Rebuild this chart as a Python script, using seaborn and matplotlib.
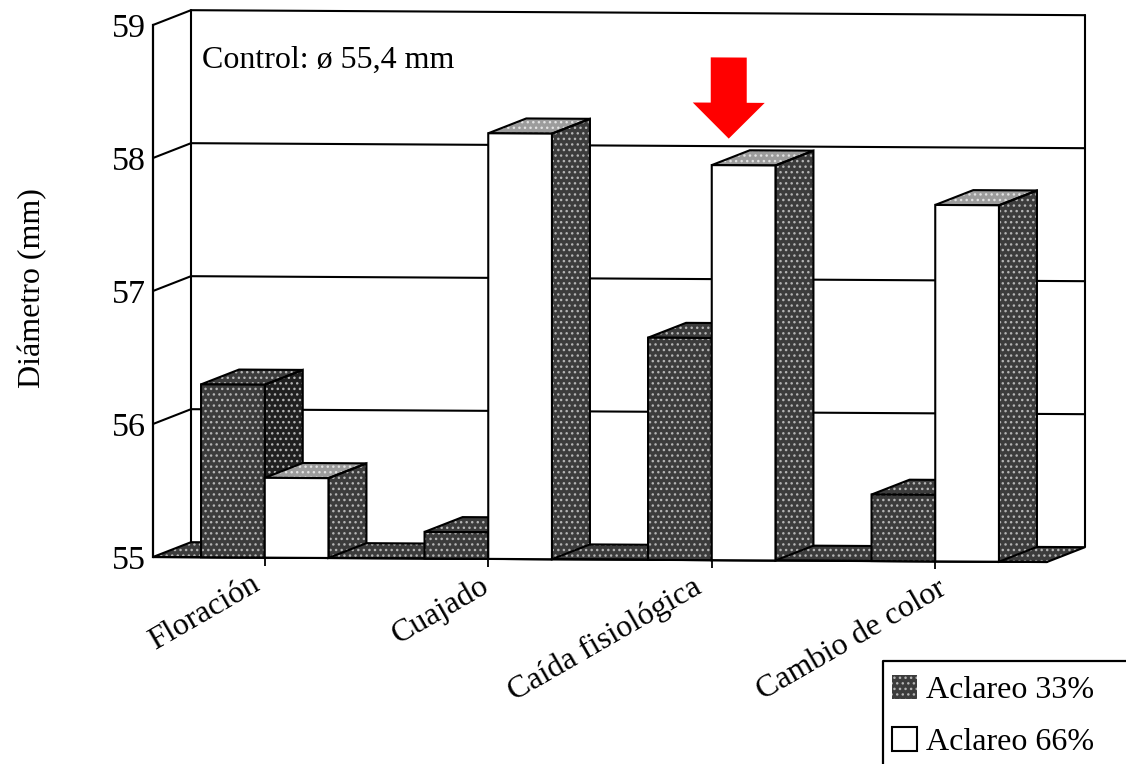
import matplotlib
matplotlib.use("Agg")
import matplotlib.pyplot as plt
import pandas as pd
import seaborn as sns
from matplotlib.lines import Line2D
from matplotlib.patches import FancyArrow, Patch, Polygon, Rectangle
from matplotlib.transforms import Affine2D

# Fruit diameter by thinning date and intensity
stages = ["Floración", "Cuajado", "Caída fisiológica", "Cambio de color"]
thinning_33 = [56.3, 55.2, 56.67, 55.5]
thinning_66 = [55.6, 58.2, 57.97, 57.68]
series_names = ["Aclareo 33%", "Aclareo 66%"]
y_ticks = [55, 56, 57, 58, 59]

W, H, DPI = 1126, 764, 100
BASE = 55
DEPTH_X, DEPTH_Y = 0.170, 0.113   # pseudo-3D offset of the back plane, data units
HATCH = "..."
DOT = "#b4b4b4"
DOT_LIGHT = "#e2e2e2"
DARK = "#3c3c3c"
DARKEST = "#202020"
LIGHT_TOP = "#9c9c9c"
LINE = 1.5

sns.set_style("white")
plt.rcParams["font.family"] = ["Liberation Serif", "DejaVu Serif"]
plt.rcParams["hatch.linewidth"] = 1.0

fig = plt.figure(figsize=(W / DPI, H / DPI), dpi=DPI, facecolor="white")
ax = fig.add_axes([153 / W, (H - 557) / H, 894 / W, 532 / H])
ax.patch.set_alpha(0)

frame = pd.DataFrame({
    "stage": stages * 2,
    "diameter": thinning_33 + thinning_66,
    "series": [series_names[0]] * 4 + [series_names[1]] * 4,
})
sns.barplot(data=frame, x="stage", y="diameter", hue="series", order=stages,
            hue_order=series_names, palette={series_names[0]: DARK, series_names[1]: "white"},
            width=0.57, gap=0, saturation=1, legend=False, ax=ax)
ax.set_xlim(-0.5, 3.5)
ax.set_ylim(55, 59)

# The whole plot leans very slightly downward to the right
k = 5.0 / 894
lean = Affine2D.from_values(1, -k, 0, 1, 0, k * 153)
tf = ax.transData + lean


def poly(points, face, z, hatch=None, dots=DOT):
    shade = Polygon(points, closed=True, transform=tf, facecolor=face, edgecolor=dots,
                    hatch=hatch, linewidth=0, zorder=z, clip_on=False)
    line = Polygon(points, closed=True, transform=tf, fill=False, edgecolor="black",
                   linewidth=LINE, zorder=z + 0.01, clip_on=False, joinstyle="miter")
    ax.add_patch(shade)
    ax.add_patch(line)


x0, x1 = ax.get_xlim()

# Back wall and gridlines
for y in y_ticks[1:]:
    ax.plot([x0, x0 + DEPTH_X, x1 + DEPTH_X], [y, y + DEPTH_Y, y + DEPTH_Y], color="black",
            lw=LINE, transform=tf, zorder=1, clip_on=False, solid_joinstyle="miter")
for x in (x0 + DEPTH_X, x1 + DEPTH_X):
    ax.plot([x, x], [BASE + DEPTH_Y, y_ticks[-1] + DEPTH_Y], color="black", lw=LINE,
            transform=tf, zorder=1, clip_on=False)

# Floor
poly([(x0, BASE), (x1, BASE), (x1 + DEPTH_X, BASE + DEPTH_Y), (x0 + DEPTH_X, BASE + DEPTH_Y)],
     DARK, 2, HATCH)

# Bars: seaborn's rectangles become front faces, with side and top faces added behind
bars = []
for container, is_dark in zip(ax.containers, (True, False)):
    for rect in container:
        bars.append((rect, is_dark))
bars.sort(key=lambda item: item[0].get_x())

for i, (rect, is_dark) in enumerate(bars):
    left, w, top = rect.get_x(), rect.get_width(), rect.get_height()
    right = left + w
    z = 3 + i
    side = DARKEST if is_dark else DARK
    cap = DARK if is_dark else LIGHT_TOP
    poly([(right, BASE), (right + DEPTH_X, BASE + DEPTH_Y),
          (right + DEPTH_X, top + DEPTH_Y), (right, top)], side, z, HATCH)
    poly([(left, top), (right, top), (right + DEPTH_X, top + DEPTH_Y),
          (left + DEPTH_X, top + DEPTH_Y)], cap, z, HATCH, DOT if is_dark else DOT_LIGHT)
    rect.set_y(BASE)
    rect.set_height(top - BASE)
    rect.set_transform(tf)
    rect.set_clip_on(False)
    rect.set_zorder(z + 0.5)
    rect.set_linewidth(0)
    if is_dark:
        rect.set_edgecolor(DOT)
        rect.set_hatch(HATCH)
    ax.add_patch(Rectangle((left, BASE), w, top - BASE, fill=False, edgecolor="black", lw=LINE,
                           transform=tf, zorder=z + 0.6, clip_on=False))

# Front edge and category ticks
ax.plot([x0, x1], [BASE, BASE], color="black", lw=1.6, transform=tf, zorder=2.5, clip_on=False)
ax.vlines(range(len(stages)), BASE - 0.06, BASE, color="black", lw=1.3, transform=tf,
          zorder=30, clip_on=False)

# Axes furniture
for name in ("top", "right", "bottom"):
    ax.spines[name].set_visible(False)
ax.spines["left"].set_linewidth(1.6)
ax.spines["left"].set_color("black")
ax.set_yticks(y_ticks)
ax.tick_params(axis="y", length=0, pad=5, labelsize=24.5, labelcolor="black")
ax.tick_params(axis="x", length=0, pad=9, labelsize=23, labelcolor="black")
ax.set_xlabel("")
ax.set_ylabel("Diámetro (mm)", fontsize=23, color="black")
ax.yaxis.set_label_coords(-106 / 894, 269 / 532)
label_nudge = [-14, -9, -20, 2]
for label, nudge in zip(ax.get_xticklabels(), label_nudge):
    label.set_rotation(30)
    label.set_ha("right")
    label.set_va("top")
    label.set_rotation_mode("anchor")
    label.set_transform(label.get_transform() + lean + Affine2D().translate(nudge, 0))

ax.text(-0.282, 58.68, "Control: ø 55,4 mm", fontsize=23, color="black", ha="left",
        va="baseline", zorder=40)

# Arrow marking the fruit-drop stage
ax.add_patch(FancyArrow(2.076, 58.78, 0, -0.61, width=0.161, head_width=0.322, head_length=0.27,
                        length_includes_head=True, color="#ff0000", linewidth=0, zorder=40,
                        clip_on=False, transform=tf))

# Legend box runs off the lower-right corner
fig.add_artist(Line2D([883 / W, 883 / W, 1], [0, (H - 661) / H, (H - 661) / H], color="black", lw=1.6))
handles = [
    Patch(facecolor=DARK, edgecolor=DOT, hatch=HATCH, linewidth=0),
    Patch(facecolor="white", edgecolor="black", linewidth=1.5),
]
fig.legend(handles, series_names, loc="upper left", bbox_to_anchor=(892 / W, (H - 675) / H),
           frameon=False, fontsize=23, labelcolor="black", handlelength=0.78, handleheight=0.78,
           handletextpad=0.3, labelspacing=0.68, borderpad=0, borderaxespad=0)

fig.savefig("out.png", dpi=DPI, facecolor="white")
